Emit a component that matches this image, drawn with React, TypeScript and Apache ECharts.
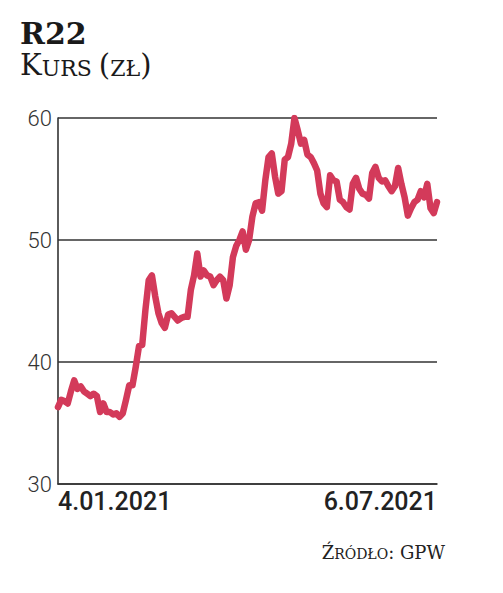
import React, { useEffect, useRef } from "react";
import * as echarts from "echarts";

const PRICES: number[] = [
  36.3, 36.9, 36.8, 36.6, 37.6, 38.5, 37.8, 38.0, 37.6, 37.4, 37.2, 37.4, 37.2, 35.9, 36.6, 35.9,
  35.9, 35.7, 35.8, 35.5, 35.8, 36.9, 38.1, 38.1, 39.6, 41.3, 41.4, 44.3, 46.7, 47.1, 45.4, 44.0,
  43.2, 42.8, 43.9, 44.0, 43.7, 43.4, 43.6, 43.7, 43.7, 45.9, 47.1, 48.9, 47.0, 47.5, 47.1, 47.0,
  46.3, 46.7, 47.0, 46.7, 45.2, 46.3, 48.6, 49.5, 50.0, 50.7, 49.2, 50.0, 51.9, 53.0,
  53.1, 52.4, 54.9, 56.8, 57.1, 55.2, 53.8, 54.0, 56.6, 56.8, 57.9, 60.0, 59.0, 57.9, 58.2, 57.0,
  56.8, 56.3, 55.7, 53.8, 53.0, 52.7, 55.3, 54.9, 54.8, 53.3, 53.1, 52.7, 52.5,
  54.6, 55.1, 54.2, 53.8, 53.7, 53.4, 55.5, 56.0, 55.1, 54.8, 54.9, 54.4, 54.0, 54.4, 55.9, 54.6,
  53.5, 52.0, 52.6, 53.1, 53.3, 54.0, 53.5, 54.6, 52.6, 52.2, 53.1,
];
const CATEGORIES: string[] = PRICES.map((_, i) => String(i));
const X_TICK_LABELS: string[] = ["4.01.2021", "6.07.2021"];
const Y_MIN = 30;
const Y_MAX = 60;
const Y_STEP = 10;
const TITLE = "R22";

export default function App() {
  const ref = useRef<HTMLDivElement>(null);
  useEffect(() => {
    if (!ref.current) return;
    const chart = echarts.init(ref.current, undefined, { renderer: "svg" });
    const last = CATEGORIES.length - 1;
    const serif = "DejaVu Serif";
    chart.setOption({
      animation: false,
      backgroundColor: "#ffffff",
      grid: { left: 58, right: 66, top: 118, bottom: 109 },
      xAxis: {
        type: "category",
        data: CATEGORIES,
        boundaryGap: false,
        axisLine: { show: true, lineStyle: { color: "#333333", width: 1.6 } },
        axisTick: { show: false },
        splitLine: { show: false },
        axisLabel: {
          interval: (i: number) => i === 0 || i === last,
          formatter: (_v: string, i: number) =>
            i === 0 ? X_TICK_LABELS[0] : i === last ? X_TICK_LABELS[1] : "",
          alignMinLabel: "left",
          alignMaxLabel: "right",
          color: "#222222",
          fontFamily: "Roboto",
          fontWeight: 500,
          fontSize: 25,
          margin: 5,
          showMinLabel: true,
          showMaxLabel: true,
        },
      },
      yAxis: {
        type: "value",
        min: Y_MIN,
        max: Y_MAX,
        interval: Y_STEP,
        axisLine: { show: true, lineStyle: { color: "#333333", width: 1.6 } },
        axisTick: { show: false },
        splitLine: { show: true, lineStyle: { color: "#333333", width: 1.6 } },
        axisLabel: {
          color: "#333333",
          fontFamily: "Roboto",
          fontWeight: 300,
          fontSize: 22,
          margin: 6,
        },
      },
      series: [
        {
          type: "line",
          data: PRICES,
          showSymbol: false,
          symbol: "none",
          lineStyle: { color: "#d33a5a", width: 6.5, join: "round", cap: "round" },
          z: 5,
        },
      ],
      graphic: [
        {
          type: "text",
          left: 20,
          top: 18,
          style: {
            text: TITLE,
            fontFamily: serif,
            fontWeight: "bold",
            fontSize: 30,
            lineHeight: 28,
            fill: "#1a1a1a",
          },
        },
        {
          type: "text",
          left: 20,
          top: 50,
          style: {
            text: "{a|K}{b|URS }{a|(}{b|ZŁ}{a|)}",
            fill: "#1a1a1a",
            rich: {
              a: { fontFamily: serif, fontSize: 29, lineHeight: 30, fill: "#1a1a1a", verticalAlign: "bottom" },
              b: { fontFamily: serif, fontSize: 22, lineHeight: 30, fill: "#1a1a1a", verticalAlign: "bottom" },
            },
          },
        },
        {
          type: "text",
          right: 58,
          top: 543,
          style: {
            text: "{a|Ź}{b|RÓDŁO}{a|: GPW}",
            fill: "#222222",
            rich: {
              a: { fontFamily: serif, fontSize: 18, fill: "#222222", verticalAlign: "bottom" },
              b: { fontFamily: serif, fontSize: 14, fill: "#222222", verticalAlign: "bottom" },
            },
          },
        },
      ],
    });
    return () => chart.dispose();
  }, []);
  return (
    <div
      ref={ref}
      style={{ position: "fixed", left: 0, top: 0, width: 503, height: 593, background: "#fff" }}
    />
  );
}
